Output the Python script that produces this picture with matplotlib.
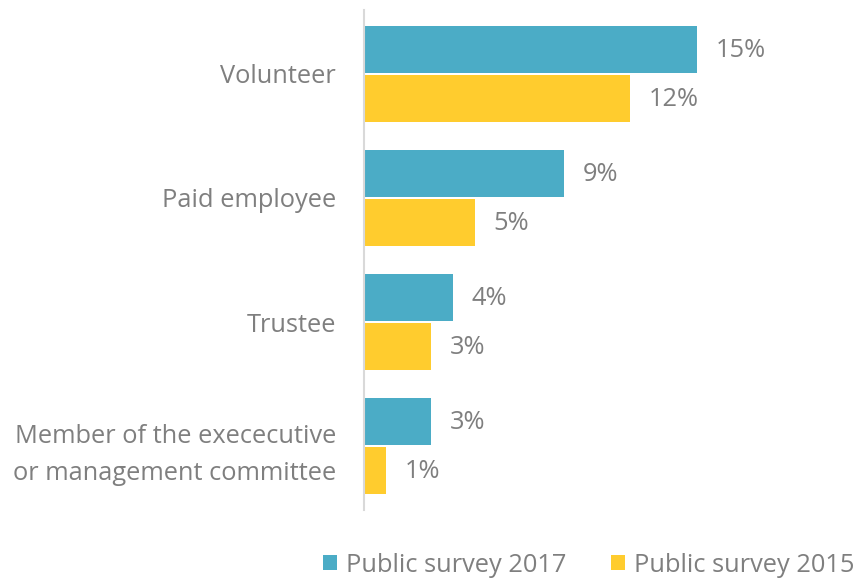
import numpy as np
import matplotlib.pyplot as plt

categories = ["Volunteer", "Paid employee", "Trustee",
              "Member of the exececutive\nor management committee"]
survey_2017 = [15, 9, 4, 3]
survey_2015 = [12, 5, 3, 1]
series_names = ["Public survey 2017", "Public survey 2015"]

blue = "#4BACC6"
yellow = "#FFCC2E"
grey = "#7F7F7F"
fs = 18.3

plt.rcParams['font.family'] = ['Open Sans', 'DejaVu Sans']

fig = plt.figure(figsize=(8.56, 5.78), dpi=100)
ax = fig.add_axes([364 / 856, 68 / 578, 444 / 856, 500 / 578])

y = np.arange(len(categories))
h = 0.38
gap = 0.008
b1 = ax.barh(y - h / 2 - gap, survey_2017, height=h, color=blue, label=series_names[0])
b2 = ax.barh(y + h / 2 + gap, survey_2015, height=h, color=yellow, label=series_names[1])

# value labels just right of each bar
for bars in (b1, b2):
    for rect in bars:
        w = rect.get_width()
        ax.annotate(f"{w:.0f}%", (w, rect.get_y() + rect.get_height() / 2),
                    xytext=(13.5, -1), textcoords="offset points",
                    ha="left", va="center", fontsize=fs, color=grey)

ax.set_xlim(0, 20)
ax.set_ylim(3.516, -0.516)
ax.set_yticks(y)
ax.set_yticklabels(categories, fontsize=fs, color=grey, ha="right", linespacing=1.62)
ax.tick_params(axis="y", length=0, pad=20)
ax.set_xticks([])
for side in ("top", "right", "bottom"):
    ax.spines[side].set_visible(False)
ax.spines["left"].set_color("#D9D9D9")
ax.spines["left"].set_linewidth(1.5)

leg = fig.legend(loc="center", bbox_to_anchor=(589 / 856, 1 - 565 / 578), ncol=2, frameon=False,
                 fontsize=fs, handlelength=0.55, handleheight=0.55, handletextpad=0.35,
                 columnspacing=1.75, borderpad=0)
for t in leg.get_texts():
    t.set_color(grey)

fig.savefig("out.png", dpi=100)
